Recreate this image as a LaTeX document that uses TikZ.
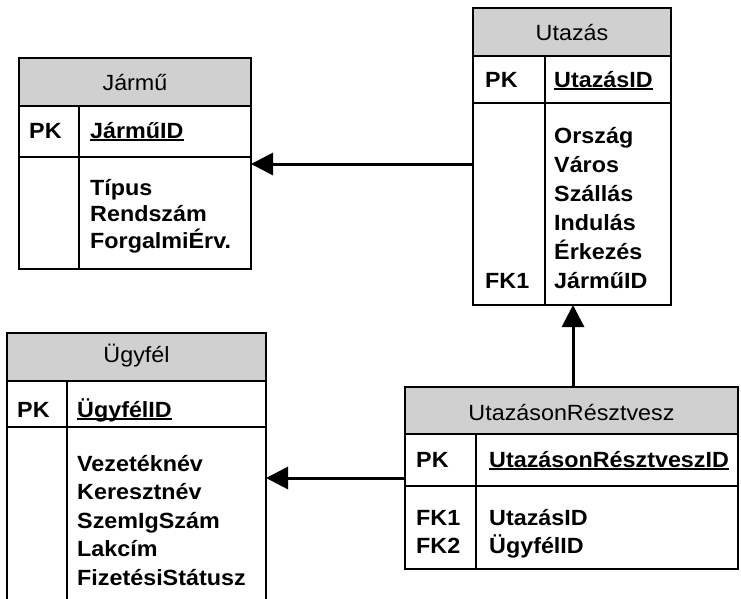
\documentclass[tikz,border=0pt]{standalone}
\usepackage{fontspec}
\setmainfont{Liberation Sans}[FakeStretch=1.06]
\usetikzlibrary{arrows.meta}
\definecolor{hdrgray}{RGB}{208,208,208}
\newcommand\myul[1]{\setbox0\hbox{#1}\rlap{\rule[-3pt]{\wd0}{1.6pt}}\box0}
% #1 name, #2 x1, #3 y1, #4 x2, #5 y2, #6 header bottom, #7 PK bottom, #8 divider x
\newcommand\erentity[8]{%
  \node[inner sep=0pt, outer sep=0pt, minimum width={(#4-#2)*1pt}, minimum height={(#5-#3)*1pt}, anchor=north west] (#1) at (#2,#3) {};
  \fill[hdrgray] (#1.north west) rectangle (#4,#6);
  \draw[frame] (#2,#6) -- (#4,#6);
  \draw[frame] (#2,#7) -- (#4,#7);
  \draw[frame] (#8,#6) -- (#8,#5);
  \draw[frame] (#1.north west) rectangle (#1.south east);
}
\begin{document}
\begin{tikzpicture}[x=1pt,y=-1pt,
  frame/.style={line width=1.3pt},
  hdrtxt/.style={font=\fontsize{22}{26}\selectfont, inner sep=0pt, anchor=base},
  attr/.style={font=\fontsize{22}{26}\selectfont\bfseries, inner sep=0pt, anchor=base west},
  conn/.style={line width=3pt, -{Triangle[length=22pt,width=22pt]}}]
\useasboundingbox (0,0) rectangle (741,598);
\clip (0,0) rectangle (741,598);
\fill[white] (0,0) rectangle (741,598);

% Jármű
\erentity{jarmu}{19}{58}{251}{269}{106}{157}{79}
\node[hdrtxt] (jh) at (135,90) {Jármű};
\node[attr] (jpk) at (29,138) {PK};
\node[attr] (jid) at (90,138) {\myul{JárműID}};
\node[attr] (j1) at (90,195) {Típus};
\node[attr] (j2) at (90,221) {Rendszám};
\node[attr] (j3) at (90,248) {ForgalmiÉrv.};

% Utazás
\erentity{utazas}{473}{8}{671}{305}{56}{103}{545}
\node[hdrtxt] (uh) at (572,40) {Utazás};
\node[attr] (upk) at (485,87) {PK};
\node[attr] (uid) at (554,87) {\myul{UtazásID}};
\node[attr] (u1) at (554,143) {Ország};
\node[attr] (u2) at (554,172) {Város};
\node[attr] (u3) at (554,201) {Szállás};
\node[attr] (u4) at (554,230) {Indulás};
\node[attr] (u5) at (554,259) {Érkezés};
\node[attr] (ufk) at (485,288) {FK1};
\node[attr] (u6) at (554,288) {JárműID};

% Ügyfél
\erentity{ugyfel}{7}{333}{266}{620}{381}{427}{67}
\node[hdrtxt] (gh) at (136.5,362) {Ügyfél};
\node[attr] (gpk) at (17,417) {PK};
\node[attr] (gid) at (77,417) {\myul{ÜgyfélID}};
\node[attr] (g1) at (77,471) {Vezetéknév};
\node[attr] (g2) at (77,499) {Keresztnév};
\node[attr] (g3) at (77,528) {SzemIgSzám};
\node[attr] (g4) at (77,556) {Lakcím};
\node[attr] (g5) at (77,585) {FizetésiStátusz};

% UtazásonRésztvesz
\erentity{urt}{405}{387}{738}{569}{434}{486}{476}
\node[hdrtxt] (rh) at (571.5,420) {UtazásonRésztvesz};
\node[attr] (rpk) at (416,467) {PK};
\node[attr] (rid) at (489,467) {\myul{UtazásonRésztveszID}};
\node[attr] (rfk1) at (416,525) {FK1};
\node[attr] (r1) at (489,525) {UtazásID};
\node[attr] (rfk2) at (416,553) {FK2};
\node[attr] (r2) at (489,553) {ÜgyfélID};

% connectors
\coordinate (c1) at (0,164);
\coordinate (c2) at (573,0);
\coordinate (c3) at (0,478);
\draw[conn] (utazas.west |- c1) -- (jarmu.east |- c1);
\draw[conn] (urt.north -| c2) -- (utazas.south -| c2);
\draw[conn] (urt.west |- c3) -- (ugyfel.east |- c3);
\end{tikzpicture}
\end{document}
